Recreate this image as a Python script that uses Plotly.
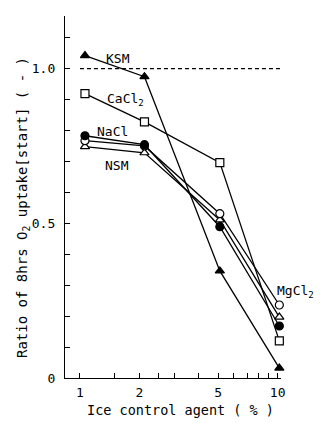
import plotly.graph_objects as go
import math

# ---- data ----
agent_pct = [1.06, 2.12, 5.1, 10.2]
ksm   = [1.042, 0.974, 0.346, 0.032]
cacl2 = [0.919, 0.828, 0.696, 0.120]
nacl  = [0.783, 0.754, 0.489, 0.168]
mgcl2 = [0.767, 0.750, 0.531, 0.236]
nsm   = [0.748, 0.728, 0.511, 0.197]
ref_x = [1.0, 10.6]
ref_y = [1.0, 1.0]

x_tickvals = [1, 1.5, 2, 2.5, 3, 4, 5, 6, 7, 8, 9, 10]
x_ticktext = ["1", "", "2", "", "", "", "5", "", "", "", "", "10"]
y_tickvals = [0, 0.1, 0.2, 0.3, 0.4, 0.5, 0.6, 0.7, 0.8, 0.9, 1.0, 1.1]
y_ticktext = ["0", "", "", "", "", "0.5", "", "", "", "", "1.0", ""]

FONT = "DejaVu Sans Mono"

fig = go.Figure()

fig.add_trace(go.Scatter(x=ref_x, y=ref_y, mode="lines",
                         line=dict(color="black", width=1.2, dash="4px,3px"),
                         showlegend=False, cliponaxis=False))

series = [
    (cacl2, "square", "white"),
    (nsm, "triangle-up", "white"),
    (mgcl2, "circle", "white"),
    (nacl, "circle", "black"),
    (ksm, "triangle-up", "black"),
]
for ys, sym, fill in series:
    fig.add_trace(go.Scatter(
        x=agent_pct, y=ys, mode="lines+markers",
        line=dict(color="black", width=1.3),
        marker=dict(symbol=sym, size=8, color=fill,
                    line=dict(color="black", width=1.2)),
        showlegend=False, cliponaxis=False))

# page body has an 8px default margin; compensate
OFF = 8
W, H = 324 - OFF, 423 - OFF
L, R, T, B = 65 - OFF, 43, 16 - OFF, 45
pw, ph = W - L - R, H - T - B

def px_to_paper(px, py):
    # px, py are window pixel coordinates
    return (px - OFF - L) / pw, (H - B - (py - OFF)) / ph

annots = [
    ("KSM", 118, 59, "center"),
    ("CaCl<sub>2</sub>", 125, 100, "center"),
    ("NaCl", 112, 131, "center"),
    ("NSM", 117, 165, "center"),
    ("MgCl<sub>2</sub>", 275, 291, "left"),
]
for txt, px, py, xa in annots:
    xp, yp = px_to_paper(px, py)
    fig.add_annotation(text=txt, x=xp, y=yp, xref="paper", yref="paper",
                       showarrow=False, xanchor=xa, yanchor="middle",
                       font=dict(family=FONT, size=13, color="black"))

xp, yp = px_to_paper(180, 410)
fig.add_annotation(text="Ice control agent ( % )", x=xp, y=yp, xref="paper", yref="paper",
                   showarrow=False, xanchor="center", yanchor="middle",
                   font=dict(family=FONT, size=13.5, color="black"))
xp, yp = px_to_paper(23, 208)
fig.add_annotation(text="Ratio of 8hrs O<sub>2</sub> uptake[start] ( - )", x=xp, y=yp,
                   xref="paper", yref="paper", textangle=-90,
                   showarrow=False, xanchor="center", yanchor="middle",
                   font=dict(family=FONT, size=14, color="black"))

fig.update_layout(
    width=W, height=H,
    margin=dict(l=L, r=R, t=T, b=B, autoexpand=False),
    paper_bgcolor="white", plot_bgcolor="white",
    font=dict(family=FONT, size=13, color="black"),
    xaxis=dict(type="log", range=[math.log10(0.84), math.log10(10.4)],
               tickvals=x_tickvals, ticktext=x_ticktext,
               ticks="inside", ticklen=5, tickcolor="black", tickwidth=1,
               showline=True, linecolor="black", linewidth=1.3,
               showgrid=False, zeroline=False, ticklabelstandoff=2),
    yaxis=dict(range=[0, 1.17], tickvals=y_tickvals, ticktext=y_ticktext,
               ticks="inside", ticklen=5, tickcolor="black", tickwidth=1,
               showline=True, linecolor="black", linewidth=1.3,
               showgrid=False, zeroline=False, ticklabelstandoff=6),
)

fig.write_html("out.html")
